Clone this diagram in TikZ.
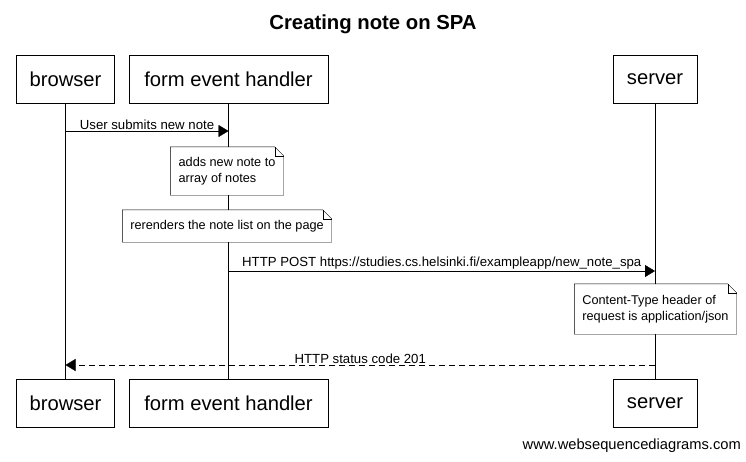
\documentclass[tikz,border=0pt]{standalone}
\usepackage{fontspec}
\setmainfont{Liberation Sans}
\usetikzlibrary{arrows.meta,positioning}

\begin{document}
\begin{tikzpicture}[
    x=1pt, y=-1pt,
    actor/.style={rectangle, draw, fill=white, minimum height=48pt, inner sep=0pt, font=\fontsize{20.2}{23}\selectfont},
    note/.style={rectangle, fill=white, align=left, inner sep=0pt, font=\fontsize{12.7}{16}\selectfont},
    msg/.style={-{Triangle[length=10pt,width=12pt]}},
    lbl/.style={above, inner sep=1.5pt, font=\fontsize{13.2}{15}\selectfont}
]
\useasboundingbox (0,0) rectangle (746,461);

% Title
\node[font=\bfseries\fontsize{20.3}{24}\selectfont] (title) at (373,24) {Creating note on SPA};

% Participants (top)
\node[actor, minimum width=98pt] (br1) at (65.5,79) {browser};
\node[actor, minimum width=199pt] (feh1) at (228.5,79) {form event handler};
\node[actor, minimum width=84pt] (srv1) at (655,79) {server};

% Participants (bottom)
\node[actor, minimum width=98pt] (br2) at (65.5,403.5) {browser};
\node[actor, minimum width=199pt] (feh2) at (228.5,403.5) {form event handler};
\node[actor, minimum width=84pt] (srv2) at (655,403.5) {server};

% Lifelines
\draw (br1) -- (br2);
\draw (feh1) -- (feh2);
\draw (srv1) -- (srv2);

% Message 1
\coordinate (m1s) at (br1 |- 0,131);
\coordinate (m1e) at (feh1 |- 0,131);
\draw[msg] (m1s) -- node[lbl] {User submits new note} (m1e);

% Notes on handler
\node[note, minimum width=113pt, minimum height=48pt] (n1) at (227,171) {adds new note to\\array of notes};
\draw (n1.south west) |- ([xshift=-9pt]n1.north east) -- ([yshift=-9pt]n1.north east) |- cycle;
\draw ([xshift=-9pt]n1.north east) |- ([yshift=-9pt]n1.north east);

\node[note, minimum width=209pt, minimum height=32pt] (n2) at (227,226) {rerenders the note list on the page};
\draw (n2.south west) |- ([xshift=-9pt]n2.north east) -- ([yshift=-9pt]n2.north east) |- cycle;
\draw ([xshift=-9pt]n2.north east) |- ([yshift=-9pt]n2.north east);

% Message 2
\coordinate (m2s) at (feh1 |- 0,271);
\coordinate (m2e) at (srv1 |- 0,271);
\draw[msg] (m2s) -- node[lbl] {HTTP POST https://studies.cs.helsinki.fi/exampleapp/new\_note\_spa} (m2e);

% Note on server
\node[note, minimum width=162pt, minimum height=50pt] (n3) at (655.5,309) {Content-Type header of\\request is application/json};
\draw (n3.south west) |- ([xshift=-9pt]n3.north east) -- ([yshift=-9pt]n3.north east) |- cycle;
\draw ([xshift=-9pt]n3.north east) |- ([yshift=-9pt]n3.north east);

% Message 3 (reply)
\coordinate (m3s) at (srv1 |- 0,365);
\coordinate (m3e) at (br1 |- 0,365);
\draw[msg, dash pattern=on 6pt off 4pt] (m3s) -- node[lbl] {HTTP status code 201} (m3e);

% Footer
\node[anchor=east, inner sep=0pt, font=\fontsize{14.7}{17}\selectfont] (footer) at (741,446) {www.websequencediagrams.com};

\end{tikzpicture}
\end{document}
